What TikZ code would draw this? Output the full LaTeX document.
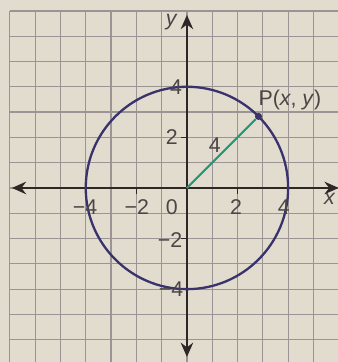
\documentclass[tikz,border=0pt]{standalone}
\usepackage{fontspec}
\setmainfont{Liberation Sans}
\usetikzlibrary{arrows.meta}
\definecolor{paper}{RGB}{226,220,206}
\definecolor{gridc}{RGB}{156,148,148}
\definecolor{axisc}{RGB}{45,40,38}
\definecolor{textc}{RGB}{75,70,70}
\definecolor{circc}{RGB}{58,50,108}
\definecolor{segc}{RGB}{40,150,120}
\begin{document}
\begin{tikzpicture}[x=0.5cm,y=0.5cm,
  gridline/.style={draw=gridc,line width=0.7pt},
  axisline/.style={draw=axisc,line width=1.3pt,{Stealth[length=8pt,width=7pt]}-{Stealth[length=8pt,width=7pt]}},
  tickline/.style={draw=axisc,line width=0.8pt},
  lbl/.style={text=textc,font=\fontsize{12}{14}\selectfont,inner sep=1pt},
  circline/.style={draw=circc,line width=1.3pt},
  radius line/.style={draw=segc,line width=1.2pt},
  dot/.style={circle,fill=circc,inner sep=0pt,minimum size=4pt}]
\fill[paper] (-7.39,-6.88) rectangle (5.97,7.43);
\useasboundingbox (-7.39,-6.88) rectangle (5.97,7.43);
\clip (-7.39,-6.88) rectangle (5.97,7.43);
\draw[gridline,step=0.5cm] (-7,-7.5) grid (6.5,7);
% axes
\coordinate (xl) at (-6.92,0);
\coordinate (xr) at (6.0,0);
\coordinate (yb) at (0,-6.68);
\coordinate (yt) at (0,6.84);
\draw[axisline] (xl) -- (xr);
\draw[axisline] (yb) -- (yt);
% ticks
\foreach \t in {-2,2} {
  \draw[tickline] (\t,0) -- (\t,-0.25);
  \draw[tickline] (0,\t) -- (-0.25,\t);
}
% circle
\draw[circline] (0,0) circle (4);
% radius
\coordinate (O) at (0,0);
\node[dot] (P) at (45:4) {};
\draw[radius line] (O) -- (P);
% labels
\node[lbl] (lx1) at (-4.03,-0.75) {−4};
\node[lbl] (lx2) at (-1.98,-0.75) {−2};
\node[lbl] (lx0) at (-0.6,-0.75) {0};
\node[lbl] (lx3) at (1.94,-0.75) {2};
\node[lbl] (lx4) at (3.83,-0.75) {4};
\node[lbl] (ly4) at (-0.43,4.0) {4};
\node[lbl] (ly2) at (-0.6,2.0) {2};
\node[lbl] (ly3) at (-0.67,-2.05) {−2};
\node[lbl] (ly1) at (-0.63,-4.0) {−4};
\node[lbl] (rlab) at (1.1,1.7) {4};
\node[lbl] (plab) at (4.07,3.48) {P(\textit{x}, \textit{y})};
\node[lbl] (ylab) at (-0.6,6.56) {\textit{y}};
\node[lbl,anchor=east] (xlab) at (5.95,-0.45) {\textit{x}};
\end{tikzpicture}
\end{document}
